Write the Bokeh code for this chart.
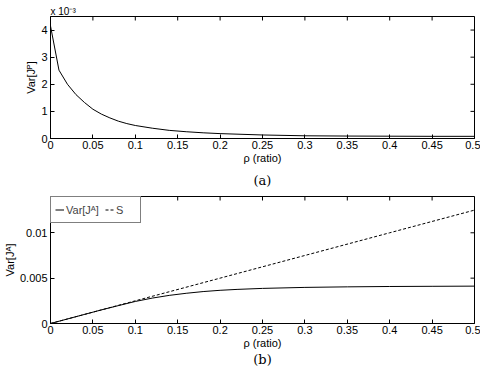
import math
from bokeh.plotting import figure
from bokeh.layouts import column
from bokeh.models import (LinearAxis, Range1d, Title, Legend, LegendItem, FixedTicker)
from bokeh.embed import file_html
from bokeh.resources import INLINE

# ---------------- data ----------------
# panel (a): Var[J^P] in units of 1e-3
rho_p = [0.0, 0.01, 0.02, 0.03, 0.04, 0.05, 0.06, 0.07, 0.08, 0.09, 0.10,
         0.12, 0.14, 0.16, 0.18, 0.20, 0.25, 0.30, 0.35, 0.40, 0.45, 0.50]
var_jp_e3 = [4.15, 2.52, 2.00, 1.62, 1.33, 1.08, 0.90, 0.76, 0.64, 0.55, 0.48,
             0.38, 0.30, 0.25, 0.21, 0.18, 0.13, 0.10, 0.09, 0.085, 0.08, 0.08]

# panel (b): Var[J^A] and S
rho_a = [0.0, 0.02, 0.04, 0.06, 0.08, 0.10, 0.12, 0.14, 0.16, 0.18, 0.20,
         0.22, 0.25, 0.30, 0.35, 0.40, 0.45, 0.50]
var_ja = [0.0, 0.0005, 0.0010, 0.0015, 0.00197, 0.00243, 0.00280, 0.00310,
          0.00333, 0.00352, 0.00366, 0.00376, 0.00387, 0.00398, 0.00404,
          0.00408, 0.00410, 0.00412]
rho_s = [0.0, 0.1, 0.2, 0.3, 0.4, 0.5]
s_vals = [0.0, 0.0025, 0.0050, 0.0075, 0.0100, 0.0125]

x_ticks = [0, 0.05, 0.1, 0.15, 0.2, 0.25, 0.3, 0.35, 0.4, 0.45, 0.5]
x_labels = ["0", "0.05", "0.1", "0.15", "0.2", "0.25", "0.3", "0.35", "0.4", "0.45", "0.5"]
ya_ticks = [0, 1, 2, 3, 4]
ya_labels = ["0", "1", "2", "3", "4"]
yb_ticks = [0, 0.005, 0.01]
yb_labels = ["0", "0.005", "0.01"]

FONT = "Liberation Sans"
SERIF = "DejaVu Serif"
W = 480
XMIN, XMAX = 0.0, 0.5


def make_fig(height, ymax, yticks, ylabels, ylabel, caption, top, bottom, cap_standoff):
    p = figure(width=W, height=height, output_backend="svg", toolbar_location=None,
               x_range=Range1d(XMIN, XMAX), y_range=Range1d(0, ymax),
               x_axis_location=None, y_axis_location=None,
               min_border_left=50, min_border_right=6,
               min_border_top=top, min_border_bottom=bottom)
    p.grid.visible = False
    p.outline_line_color = "black"
    p.outline_line_width = 1
    p.background_fill_color = "white"
    p.border_fill_color = "white"

    def base(ax):
        ax.axis_line_color = "black"
        ax.major_tick_in = 4
        ax.major_tick_out = 0
        ax.minor_tick_line_color = None
        ax.major_tick_line_color = "black"
        ax.major_label_text_font = FONT
        ax.major_label_text_font_size = "11px"
        ax.major_label_text_color = "black"
        ax.axis_label_text_font = FONT
        ax.axis_label_text_font_size = "11px"
        ax.axis_label_text_font_style = "normal"
        ax.axis_label_text_color = "black"

    xb = LinearAxis(ticker=FixedTicker(ticks=x_ticks),
                    major_label_overrides={t: l for t, l in zip(x_ticks, x_labels)},
                    axis_label="\u03c1 (ratio)")
    base(xb)
    xb.major_label_standoff = 2
    xb.axis_label_standoff = 0
    p.add_layout(xb, "below")

    # caption "(a)" / "(b)" as the label of a tick-less axis below the x axis
    cap = LinearAxis(ticker=FixedTicker(ticks=[]), axis_label=caption)
    cap.axis_line_color = None
    cap.major_tick_line_color = None
    cap.minor_tick_line_color = None
    cap.major_tick_in = 0
    cap.major_tick_out = 0
    cap.major_label_standoff = 0
    cap.axis_label_standoff = cap_standoff
    cap.axis_label_text_font = SERIF
    cap.axis_label_text_font_size = "13px"
    cap.axis_label_text_font_style = "normal"
    cap.axis_label_text_color = "black"
    p.add_layout(cap, "below")

    yl = LinearAxis(ticker=FixedTicker(ticks=yticks),
                    major_label_overrides={t: l for t, l in zip(yticks, ylabels)},
                    axis_label=ylabel)
    base(yl)
    yl.major_label_standoff = 3
    yl.axis_label_standoff = 1
    p.add_layout(yl, "left")

    # inward ticks on the top and right edges (half of each dash is clipped by the frame)
    p.scatter(x=x_ticks, y=[ymax] * len(x_ticks), marker="dash", size=8,
              angle=math.pi / 2, line_color="black", line_width=1)
    p.scatter(x=[XMAX] * len(yticks), y=yticks, marker="dash", size=8,
              line_color="black", line_width=1)
    return p


# panel (a)
pa = make_fig(190, 4.5, ya_ticks, ya_labels, "Var[J\u1d3e]", "(a)", 16, 52, 6)
pa.line(rho_p, var_jp_e3, line_color="black", line_width=1)
pa.add_layout(Title(text="x 10\u207b\u00b3", align="left", text_font=FONT,
                    text_font_size="10px", text_font_style="normal",
                    text_color="black", standoff=0), "above")

# panel (b)
pb = make_fig(181, 0.014, yb_ticks, yb_labels, "Var[J\u1d2c]", "(b)", 6, 48, 0)
r1 = pb.line(rho_a, var_ja, line_color="black", line_width=1)
r2 = pb.line(rho_s, s_vals, line_color="black", line_width=1, line_dash="3 2")
leg = Legend(items=[LegendItem(label="Var[J\u1d2c]", renderers=[r1]),
                    LegendItem(label="S", renderers=[r2])],
             location="top_left", orientation="horizontal",
             label_text_font=FONT, label_text_font_size="11px",
             glyph_width=9, glyph_height=17, label_height=17, label_standoff=2,
             spacing=6, padding=4, margin=0,
             border_line_color="black", border_line_width=1,
             background_fill_color="white", background_fill_alpha=1)
pb.add_layout(leg, "center")

layout = column(pa, pb, spacing=0)
open("out.html", "w").write(file_html(layout, INLINE))
